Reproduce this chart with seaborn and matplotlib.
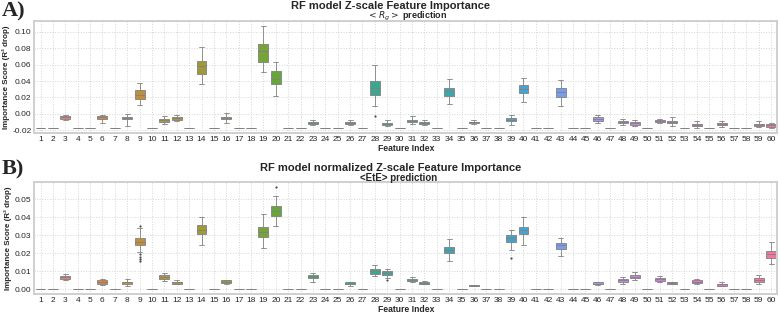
import pandas as pd
import matplotlib.pyplot as plt
import seaborn as sns

# feature indices on the x axis
features = list(range(1, 61))
# features whose scores vary; all others are a flat constant
active = [3, 6, 8, 9, 11, 12, 14, 16, 19, 20, 23, 26, 28, 29, 31, 32, 34, 36,
          39, 40, 43, 46, 48, 49, 51, 52, 54, 56, 59, 60]

# panel A: <Rg> prediction (whisker low, q1, median, q3, whisker high)
rg_const = -0.0175
rg_lo = [-0.008, -0.011, -0.0145, 0.011, -0.012, -0.009, 0.036, -0.011, 0.0507, 0.0217,
         -0.014, -0.014, 0.0097, -0.0155, -0.013, -0.0135, 0.0121, -0.0125, -0.014, 0.014,
         0.010, -0.011, -0.014, -0.0155, -0.0113, -0.015, -0.0168, -0.0157, -0.0165, -0.017]
rg_q1 = [-0.006, -0.006, -0.006, 0.0185, -0.0097, -0.007, 0.049, -0.006, 0.0632, 0.0358,
         -0.012, -0.012, 0.023, -0.014, -0.0097, -0.0125, 0.0221, -0.011, -0.0089, 0.0249,
         0.020, -0.0085, -0.0112, -0.0137, -0.0097, -0.011, -0.0155, -0.0133, -0.0145, -0.016]
rg_med = [-0.0045, -0.0045, -0.005, 0.0225, -0.008, -0.0055, 0.058, -0.005, 0.0765, 0.043,
          -0.011, -0.011, 0.0318, -0.013, -0.0085, -0.011, 0.0278, -0.010, -0.007, 0.0302,
          0.0266, -0.0065, -0.0098, -0.0115, -0.0085, -0.0098, -0.0139, -0.0125, -0.0138, -0.0138]
rg_q3 = [-0.003, -0.003, -0.004, 0.0285, -0.0065, -0.004, 0.065, -0.004, 0.0858, 0.052,
         -0.0095, -0.0095, 0.0399, -0.0115, -0.0073, -0.0097, 0.0314, -0.0095, -0.0048, 0.0346,
         0.0314, -0.0045, -0.0085, -0.0097, -0.0073, -0.0085, -0.0125, -0.0115, -0.0125, -0.0125]
rg_hi = [-0.001, -0.001, -0.0005, 0.0375, -0.003, -0.002, 0.082, 0.001, 0.1075, 0.0628,
         -0.007, -0.007, 0.059, -0.0081, -0.003, -0.008, 0.0426, -0.008, -0.0017, 0.0435,
         0.0414, -0.0015, -0.0062, -0.0077, -0.006, -0.004, -0.0085, -0.0089, -0.0089, -0.011]
rg_out_feat = [28]
rg_out_val = [-0.003]

# panel B: <EtE> prediction
ete_const = 0.0
ete_lo = [0.0048, 0.0022, 0.002, 0.0208, 0.0046, 0.0026, 0.0246, 0.0029, 0.023, 0.0353,
          0.004, 0.0018, 0.0074, 0.0062, 0.004, 0.0026, 0.0156, 0.0015, 0.0215, 0.0246,
          0.0186, 0.0022, 0.0029, 0.0051, 0.0039, 0.0026, 0.0028, 0.0015, 0.0028, 0.0142]
ete_q1 = [0.0059, 0.0031, 0.0029, 0.0244, 0.0059, 0.0031, 0.0309, 0.0035, 0.029, 0.0408,
          0.0062, 0.0026, 0.0086, 0.0077, 0.0044, 0.0029, 0.0202, 0.0017, 0.0265, 0.0305,
          0.0226, 0.0028, 0.004, 0.0062, 0.0046, 0.0029, 0.0035, 0.002, 0.004, 0.0176]
ete_med = [0.0066, 0.004, 0.0037, 0.0263, 0.0068, 0.0037, 0.0329, 0.0042, 0.0317, 0.0434,
           0.007, 0.0031, 0.0099, 0.009, 0.005, 0.0035, 0.0219, 0.002, 0.0283, 0.0327,
           0.0243, 0.0031, 0.0048, 0.007, 0.0057, 0.0035, 0.0042, 0.0026, 0.0051, 0.0195]
ete_q3 = [0.00735, 0.0048, 0.0042, 0.0283, 0.0077, 0.0042, 0.0358, 0.0048, 0.0345, 0.0465,
          0.0077, 0.0037, 0.011, 0.0099, 0.0055, 0.0039, 0.0233, 0.0022, 0.030, 0.0347,
          0.0255, 0.0037, 0.0057, 0.0077, 0.0064, 0.0039, 0.005, 0.0031, 0.0061, 0.0211]
ete_hi = [0.0085, 0.0057, 0.0055, 0.0338, 0.009, 0.0051, 0.0403, 0.0053, 0.042, 0.052,
          0.0092, 0.0042, 0.0136, 0.0112, 0.0066, 0.0046, 0.0279, 0.0025, 0.0331, 0.0399,
          0.0287, 0.004, 0.007, 0.0096, 0.0074, 0.0042, 0.0055, 0.0037, 0.0077, 0.0261]
ete_out_feat = [9, 9, 9, 9, 9, 20, 29, 39]
ete_out_val = [0.0351, 0.0195, 0.018, 0.0165, 0.0154, 0.057, 0.0051, 0.0176]


def build_frame(const, lo, q1, med, q3, hi):
    # nine values per feature so the quartiles land on q1 / median / q3
    rows = []
    for f in features:
        if f in active:
            i = active.index(f)
            vals = [lo[i], q1[i], q1[i], med[i], med[i], med[i], q3[i], q3[i], hi[i]]
        else:
            vals = [const] * 9
        rows += [(str(f), v) for v in vals]
    return pd.DataFrame(rows, columns=["feature", "score"])


sns.set_theme(style="whitegrid", rc={"grid.linestyle": ":", "grid.color": "#d5d5d5",
                                     "grid.linewidth": 0.7, "axes.edgecolor": "#cfcfcf"})
plt.rcParams["font.family"] = ["Liberation Sans", "DejaVu Sans"]

labels = [str(f) for f in features]
fig, axes = plt.subplots(2, 1, figsize=(7.8, 3.13), dpi=100)
plt.subplots_adjust(left=0.044, right=0.9966, top=0.934, bottom=0.06, hspace=0.43)

panels = [
    (build_frame(rg_const, rg_lo, rg_q1, rg_med, rg_q3, rg_hi), rg_out_feat, rg_out_val),
    (build_frame(ete_const, ete_lo, ete_q1, ete_med, ete_q3, ete_hi), ete_out_feat, ete_out_val),
]

for ax, (df, out_f, out_v) in zip(axes, panels):
    sns.boxplot(data=df, x="feature", y="score", hue="feature", order=labels,
                hue_order=labels, palette="husl", saturation=0.88, legend=False,
                whis=(0, 100), width=0.8, linewidth=0.6, linecolor="0.5", ax=ax)
    sns.stripplot(x=[str(f) for f in out_f], y=out_v, order=labels, jitter=False,
                  color="0.3", size=1.6, ax=ax)
    ax.xaxis.grid(True)
    ax.yaxis.grid(True)
    ax.set_xlim(-0.5, 59.5)
    ax.set_xlabel("Feature Index", fontsize=6.2, fontweight="bold", labelpad=1)
    ax.set_ylabel("Importance Score (R² drop)", fontsize=5.8, fontweight="bold", labelpad=2)
    ax.tick_params(axis="both", labelsize=6, length=0, pad=2)
    for s in ax.spines.values():
        s.set_linewidth(1.4)
        s.set_color("#cfcfcf")

axes[0].set_yticks([-0.02, 0.0, 0.02, 0.04, 0.06, 0.08, 0.10])
axes[0].set_yticklabels(["-0.02", "0.00", "0.02", "0.04", "0.06", "0.08", "0.10"])
axes[1].set_yticks([0.0, 0.01, 0.02, 0.03, 0.04, 0.05])
axes[1].set_yticklabels(["0.00", "0.01", "0.02", "0.03", "0.04", "0.05"])

fig.text(0.501, 1 - 6 / 313, "RF model Z-scale Feature Importance", ha="center",
         va="center", fontsize=8, fontweight="bold")
fig.text(0.522, 1 - 16.7 / 313, r"$<R_g>$ prediction", ha="center", va="center",
         fontsize=6.5, fontweight="bold")
fig.text(0.501, 1 - 167.7 / 313, "RF model normalized Z-scale Feature Importance",
         ha="center", va="center", fontsize=8, fontweight="bold")
fig.text(0.511, 1 - 177.7 / 313, "<EtE> prediction", ha="center", va="center",
         fontsize=7, fontweight="bold")

fig.text(0.002, 1 - 11.7 / 313, "A)", ha="left", va="center", fontsize=16,
         fontweight="bold", family="Liberation Serif")
fig.text(0.002, 1 - 169 / 313, "B)", ha="left", va="center", fontsize=16,
         fontweight="bold", family="Liberation Serif")

plt.savefig("out.png", dpi=100)
